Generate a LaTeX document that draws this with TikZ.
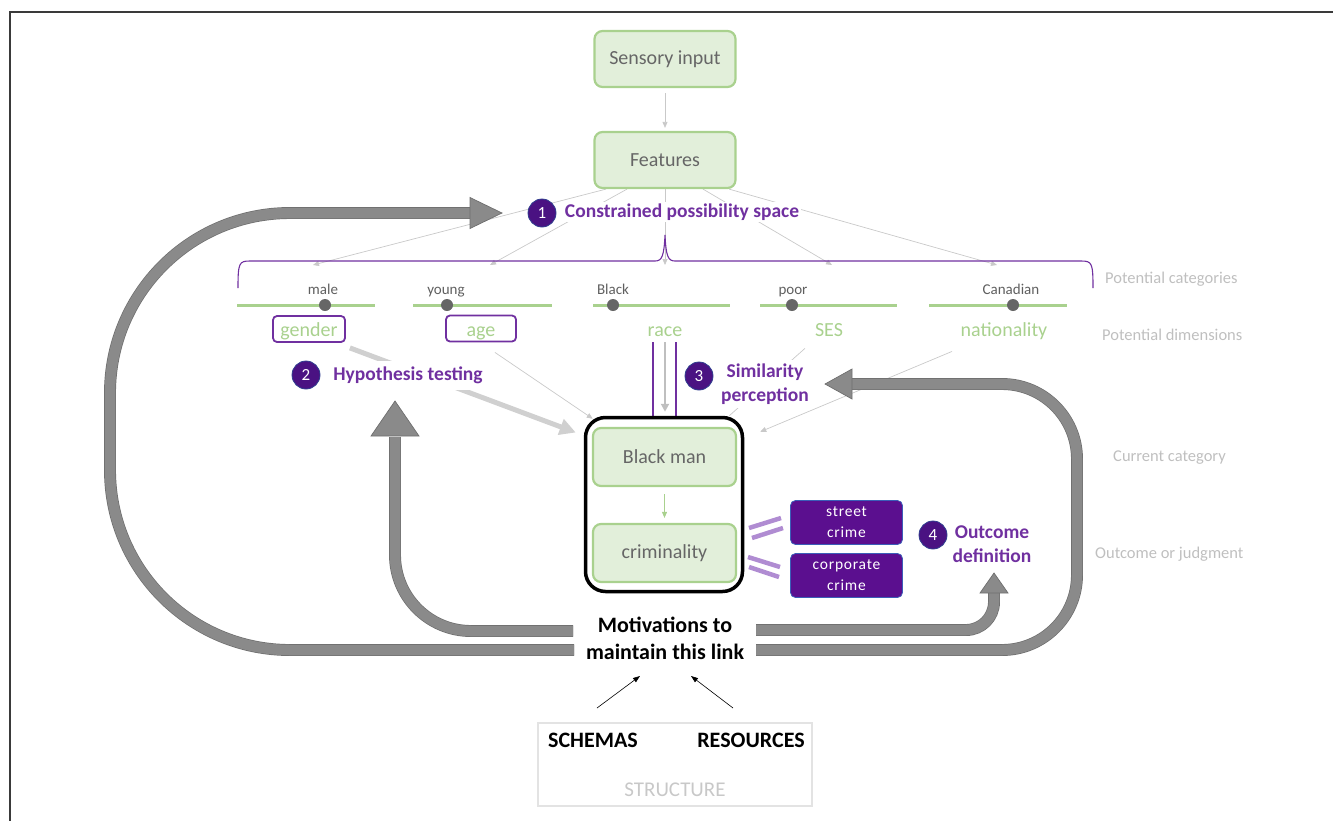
\documentclass[tikz,border=0pt]{standalone}
\usepackage{fontspec}
\setmainfont{Carlito}
\usetikzlibrary{arrows.meta,calc}
\pgfdeclarelayer{bg}
\pgfsetlayers{bg,main}
\definecolor{gfill}{HTML}{E2EFDA}
\definecolor{gline}{HTML}{A9D18E}
\definecolor{btext}{HTML}{666666}
\definecolor{purp}{HTML}{7030A0}
\definecolor{circfill}{HTML}{4A1282}
\definecolor{circline}{HTML}{2F3F8F}
\definecolor{crimefill}{HTML}{5B0F8F}
\definecolor{crimeline}{HTML}{3B5EB8}
\definecolor{eqcol}{HTML}{B08CD2}
\definecolor{afill}{HTML}{8A8A8A}
\definecolor{aline}{HTML}{6E6E6E}
\definecolor{lgray}{HTML}{C9C9C9}
\definecolor{tgray}{HTML}{D0D0D0}
\definecolor{labgray}{HTML}{BFBFBF}
\definecolor{catgray}{HTML}{5F5F5F}
\definecolor{dotgray}{HTML}{666666}
\definecolor{structline}{HTML}{E3E3E3}
\definecolor{structtext}{HTML}{C8C8C8}
\definecolor{framecol}{HTML}{3A3A3A}
\newcommand{\myfs}[2]{\fontsize{#1}{#2}\selectfont}
\tikzset{
  greenbox/.style={draw=gline, line width=2.2pt, fill=gfill, rounded corners=8pt,
    minimum width=141pt, minimum height=56pt, text=btext, font=\myfs{20}{24}, inner sep=0pt},
  numcirc/.style={circle, fill=circfill, draw=circline, line width=0.8pt, minimum size=28pt,
    inner sep=0pt, text=white, font=\myfs{17}{20}},
  plabel/.style={text=purp, font=\bfseries\myfs{19.5}{24}, fill=white, inner sep=3pt, align=center},
  catlab/.style={text=catgray, font=\myfs{15}{17}, inner sep=0pt, anchor=base},
  dimlab/.style={text=gline, font=\myfs{20}{24}, inner sep=0pt, anchor=base},
  dimbox/.style={draw=purp, line width=1.8pt, rounded corners=4pt, minimum height=26pt, inner sep=0pt},
  sidelab/.style={text=labgray, font=\myfs{16.5}{20}, anchor=base west, inner sep=0pt},
  crimebox/.style={fill=crimefill, draw=crimeline, line width=0.8pt, rounded corners=5pt,
    minimum width=112pt, minimum height=44pt, text=white,
    font=\myfs{15.5}{21}\addfontfeatures{LetterSpace=5}, align=center, inner sep=0pt},
  thinarrow/.style={draw=lgray, line width=0.7pt, -{Triangle[length=6pt,width=5pt]}},
  bigshaft/.style={draw=aline, line width=0.7pt, double=afill, double distance=10.5pt},
  bighead/.style={fill=afill, draw=aline, line width=0.7pt, line join=miter},
  dimline/.style={draw=gline, line width=3pt},
  catdot/.style={circle, fill=dotgray, minimum size=12pt, inner sep=0pt},
  eqbar/.style={draw=eqcol, line width=4.5pt},
  boldtxt/.style={font=\bfseries\myfs{22}{27}, inner sep=0pt, align=center}
}
\begin{document}
\begin{tikzpicture}[x=1pt,y=-1pt]
\useasboundingbox (0,0) rectangle (1333,820);
\draw[line width=1.5pt, framecol] (1340,12) -- (10,12) -- (10,830);

% ---------- main boxes ----------
\node[greenbox] (sens) at (665,59) {Sensory input};
\node[greenbox] (feat) at (665,160) {Features};
\node[draw=black, line width=3.5pt, rounded corners=20pt, minimum width=157pt, minimum height=174pt] (cur) at (664,504.5) {};
\node[greenbox, minimum width=143pt, minimum height=58pt] (bman) at (664.5,457) {Black man};
\node[greenbox, minimum width=143pt, minimum height=58pt] (crim) at (664.5,553) {criminality};
\node[crimebox] (street) at (846.5,522.5) {street\\crime};
\node[crimebox] (corp) at (846.5,575.5) {corporate\\crime};

% ---------- dimensions ----------
\draw[dimline] (237,305) -- (375,305);
\draw[dimline] (413,305) -- (552,305);
\draw[dimline] (593,305) -- (730,305);
\draw[dimline] (760,305) -- (897,305);
\draw[dimline] (929,305) -- (1067,305);
\node[catdot] (d1) at (325,305) {};
\node[catdot] (d2) at (447,305) {};
\node[catdot] (d3) at (613,305) {};
\node[catdot] (d4) at (792,305) {};
\node[catdot] (d5) at (1013,305) {};
\node[catlab] (c1) at (323,294) {male};
\node[catlab] (c2) at (446,294) {young};
\node[catlab] (c3) at (613,294) {Black};
\node[catlab] (c4) at (793,294) {poor};
\node[catlab] (c5) at (1011,294) {Canadian};
\node[dimlab] (gender) at (309,336) {gender};
\node[dimlab] (age) at (481,336) {age};
\node[dimlab] (race) at (665,336) {race};
\node[dimlab] (ses) at (829,336) {SES};
\node[dimlab] (nat) at (1004,336) {nationality};
\node[dimbox, minimum width=72pt] (genderbox) at (309,329) {};
\node[dimbox, minimum width=70pt] (agebox) at (481,328.5) {};

% brace
\draw[purp, line width=1.1pt] (238,288) .. controls (238,263) and (239,261) .. (250,261)
  -- (655,261) .. controls (662,261) and (664,256) .. (665,235)
  .. controls (666,256) and (668,261) .. (675,261) -- (1081,261)
  .. controls (1092,261) and (1093,263) .. (1093,288);

% ---------- side labels ----------
\node[sidelab] (s1) at (1105,283) {Potential categories};
\node[sidelab] (s2) at (1102,340) {Potential dimensions};
\node[sidelab] (s3) at (1113,461) {Current category};
\node[sidelab] (s4) at (1095,558) {Outcome or judgment};

% ---------- connectors (background) ----------
\coordinate (t1) at (313,265);
\coordinate (t2) at (490,265);
\coordinate (t3) at (665,265);
\coordinate (t4) at (832,265);
\coordinate (t5) at (997,265);
\begin{pgfonlayer}{bg}
\draw[thinarrow] ($(feat.south)+(-59,0)$) -- (t1);
\draw[thinarrow] ($(feat.south)+(-38,0)$) -- (t2);
\draw[thinarrow] (feat.south) -- (t3);
\draw[thinarrow] ($(feat.south)+(38,0)$) -- (t4);
\draw[thinarrow] ($(feat.south)+(64,0)$) -- (t5);
\draw[thinarrow, shorten <=5pt, shorten >=3pt] (sens.south) -- (feat.north);
\draw[draw=tgray, line width=5pt, -{Triangle[length=16pt,width=16pt]}] ($(genderbox.south east)+(4,5)$) -- ($(cur.west)+(-8,-72)$);
\draw[thinarrow] ($(agebox.south east)+(-22,10)$) -- ($(cur.north west)+(9,3)$);
\draw[draw=lgray, line width=0.7pt] ($(ses.south)+(-24,12)$) -- ($(cur.north east)+(-15,0)$);
\draw[thinarrow] ($(nat.south)+(-52,12)$) -- ($(cur.north east)+(16,16)$);
% race arrows
\draw[purp, line width=1.8pt] ($(race.south)+(-12,6)$) -- ($(cur.north)+(-11,0)$);
\draw[purp, line width=1.8pt] ($(race.south)+(11,6)$) -- ($(cur.north)+(12,0)$);
\draw[draw=labgray, line width=2.8pt, -{Triangle[length=8pt,width=8pt]}] ($(race.south)+(0,6)$) -- ($(cur.north)+(1,-4)$);

% big arrows
\coordinate (ml1) at (573,631);
\coordinate (ml2) at (574,650);
\coordinate (mr1) at (756,630);
\coordinate (mr2) at (756,650);
\coordinate (h1) at (502,213);
\coordinate (h2) at (395,401);
\coordinate (h3) at (825,384);
\coordinate (h4) at (994,573);
\draw[bigshaft, rounded corners=180pt] (ml2) -- (110,650) -- (110,213) -- ($(h1)+(-31,0)$);
\filldraw[bighead] ($(h1)+(-32,-15.5)$) -- (h1) -- ($(h1)+(-32,15.5)$) -- cycle;
\draw[bigshaft, rounded corners=76pt] (ml1) -- (395,631) -- ($(h2)+(0,36)$);
\filldraw[bighead] ($(h2)+(-24,35)$) -- (h2) -- ($(h2)+(24,35)$) -- cycle;
\draw[bigshaft, rounded corners=75pt] (mr2) -- (1077,650) -- (1077,384) -- ($(h3)+(26,0)$);
\filldraw[bighead] ($(h3)+(27,-15)$) -- (h3) -- ($(h3)+(27,15)$) -- cycle;
\draw[bigshaft, rounded corners=28pt] (mr1) -- (994,630) -- ($(h4)+(0,19)$);
\filldraw[bighead] ($(h4)+(-14,20)$) -- (h4) -- ($(h4)+(14,20)$) -- cycle;
\end{pgfonlayer}

% green arrow
\draw[draw=gline, line width=0.9pt, -{Triangle[length=6pt,width=5pt]}, shorten <=7pt, shorten >=5pt] (bman.south) -- (crim.north);

% equal bars
\draw[eqbar] (749,528) -- (781,518);
\draw[eqbar] (752,538) -- (783,528);
\draw[eqbar] (748,557) -- (780,567);
\draw[eqbar] (749,567) -- (779,577);

% ---------- purple labels ----------
\node[plabel, inner sep=2pt] (l1) at (682,212) {Constrained possibility space};
\node[numcirc] (n1) at (542,213) {1};
\node[plabel, inner sep=6pt] (l2) at (408,375) {Hypothesis testing};
\node[numcirc] (n2) at (306,375) {2};
\node[plabel, inner sep=4pt] (l3) at (765,384) {Similarity\\perception};
\node[numcirc] (n3) at (699,376) {3};
\node[plabel, inner sep=2pt] (l4) at (992,544) {Outcome\\definition};
\node[numcirc] (n4) at (933,535) {4};

% ---------- motivations & structure ----------
\node[boldtxt] (mot) at (665,638) {Motivations to\\maintain this link};
\node[draw=structline, line width=2.5pt, minimum width=274pt, minimum height=83pt] (struct) at (675,764.5) {};
\node[boldtxt] (schemas) at (593,740) {SCHEMAS};
\node[boldtxt] (resources) at (751,740) {RESOURCES};
\node[font=\myfs{21}{24}, text=structtext, inner sep=0pt] (structure) at (675,790) {STRUCTURE};
\coordinate (sa) at (597,708);
\coordinate (sb) at (640,676);
\coordinate (ra) at (733,708);
\coordinate (rb) at (691,676);
\draw[line width=0.6pt, -{Triangle[length=7pt,width=5pt]}] (sa) -- (sb);
\draw[line width=0.6pt, -{Triangle[length=7pt,width=5pt]}] (ra) -- (rb);
\end{tikzpicture}
\end{document}
